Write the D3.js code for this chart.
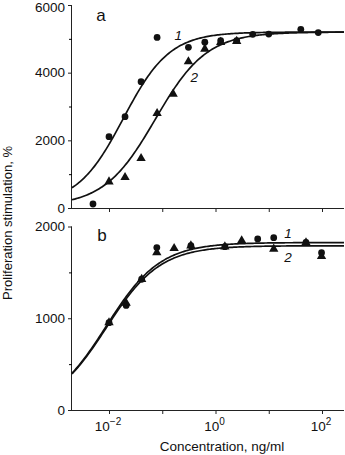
<!DOCTYPE html>
<html>
<head>
<meta charset="utf-8">
<script src="https://cdn.jsdelivr.net/npm/d3@7"></script>
<style>
  html, body { margin: 0; padding: 0; background: #fff; }
  svg { display: block; }
  text { font-family: "Liberation Sans", Arial, sans-serif; fill: #111; }
</style>
</head>
<body>
<svg id="chart" width="345" height="455"></svg>
<script>
// Concentrations (ng/ml) and proliferation stimulation (%)
// Panel a
const aConc1 = [0.005, 0.01, 0.02, 0.04, 0.08, 0.31, 0.63, 1.25, 2.5, 5, 10, 40, 85];
const aVal1  = [118, 2107, 2699, 3734, 5040, 4750, 4900, 4945, 4945, 5134, 5140, 5282, 5185];
const aConc2 = [0.01, 0.02, 0.04, 0.08, 0.16, 0.31, 0.63, 1.25, 2.5];
const aVal2  = [778, 907, 1469, 2798, 3370, 4325, 4700, 4900, 4930];
// Panel b
const bConc1 = [0.01, 0.021, 0.041, 0.079, 0.345, 1.5, 6.2, 12.4, 50, 98];
const bVal1  = [952, 1140, 1425, 1770, 1791, 1780, 1864, 1878, 1828, 1714];
const bConc2 = [0.01, 0.021, 0.041, 0.079, 0.167, 0.345, 1.5, 3.1, 12.4, 50, 98];
const bVal2  = [952, 1165, 1425, 1715, 1762, 1791, 1780, 1846, 1755, 1825, 1675];

// Four-parameter logistic fits: [bottom, top, log10 EC50, Hill slope]
const aFit1 = [100, 5200, -1.73, 1.0];
const aFit2 = [50, 5200, -1.13, 0.9];
const bFit1 = [0, 1825, -2.053, 0.857];
const bFit2 = [0, 1790, -2.053, 0.857];

// Axis ticks
const aYMajor = [0, 2000, 4000, 6000];
const aYMinor = [1000, 3000, 5000];
const bYMajor = [0, 1000, 2000];
const bYMinor = [500, 1500];
const xTicks = [1e-2, 1e-1, 1e0, 1e1, 1e2];
const xLabelExps = [-2, 0, 2];

const svg = d3.select("#chart");

const x = d3.scaleLog().domain([Math.pow(10, -2.695), Math.pow(10, 2.413)]).range([72, 344]);
const yA = d3.scaleLinear().domain([0, 6000]).range([208, 5]);
const yB = d3.scaleLinear().domain([0, 2000]).range([410, 226.5]);

function logistic(p) {
  return lx => p[0] + (p[1] - p[0]) / (1 + Math.pow(10, (p[2] - lx) * p[3]));
}

function drawPanel(y, majors, minors, showXLabels) {
  const g = svg.append("g");
  // y axis
  const yAxis = d3.axisLeft(y).tickValues(majors).tickSize(4).tickPadding(3).tickFormat(d3.format("d"));
  const ga = g.append("g").attr("transform", "translate(72,0)").call(yAxis);
  ga.select(".domain").attr("d", `M-0.5,${y.range()[1]}V${y.range()[0]}`);
  // keep the topmost label inside the frame
  ga.selectAll(".tick text").attr("dy", d => y(d) < 8 ? "0.45em" : "0.32em");
  g.append("g").attr("transform", "translate(72,0)")
    .call(d3.axisLeft(y).tickValues(minors).tickSize(3).tickFormat(""))
    .select(".domain").remove();
  // x axis
  const xAxis = d3.axisBottom(x).tickValues(xTicks).tickSize(4).tickFormat("");
  const gx = g.append("g").attr("transform", `translate(0,${y.range()[0]})`).call(xAxis);
  gx.select(".domain").attr("d", `M72,0.5H344`);
  [ga, gx].forEach(s => {
    s.selectAll("path, line").attr("stroke", "#222").attr("stroke-width", 1);
    s.selectAll("text").attr("font-size", 13.5).attr("fill", "#111")
      .attr("font-family", '"Liberation Sans", Arial, sans-serif');
  });
  if (showXLabels) {
    xLabelExps.forEach(e => {
      const t = g.append("text")
        .attr("x", x(Math.pow(10, e)) - 1)
        .attr("y", y.range()[0] + 21)
        .attr("text-anchor", "middle")
        .attr("font-size", 13.5);
      t.append("tspan").text("10");
      t.append("tspan").attr("dy", -6).attr("font-size", 10).text(e < 0 ? "\u2212" + (-e) : String(e));
    });
  }
  return g;
}

function drawCurve(y, fit) {
  const f = logistic(fit);
  const lxs = d3.range(0, 201).map(i => -2.695 + i * (2.413 + 2.695) / 200);
  const line = d3.line().x(lx => x(Math.pow(10, lx))).y(lx => y(f(lx)));
  svg.append("path").datum(lxs).attr("d", line)
    .attr("fill", "none").attr("stroke", "#111").attr("stroke-width", 1.7);
}

function drawPoints(y, conc, vals, shape) {
  const sym = d3.symbol().type(shape === "circle" ? d3.symbolCircle : d3.symbolTriangle)
    .size(shape === "circle" ? 36 : 38);
  svg.append("g").selectAll("path").data(conc.map((c, i) => [c, vals[i]])).join("path")
    .attr("d", sym)
    .attr("transform", d => `translate(${x(d[0])},${y(d[1])})`)
    .attr("fill", "#111");
}

drawPanel(yA, aYMajor, aYMinor, false);
drawPanel(yB, bYMajor, bYMinor, true);

drawCurve(yA, aFit1);
drawCurve(yA, aFit2);
drawCurve(yB, bFit1);
drawCurve(yB, bFit2);

drawPoints(yA, aConc1, aVal1, "circle");
drawPoints(yA, aConc2, aVal2, "triangle");
drawPoints(yB, bConc1, bVal1, "circle");
drawPoints(yB, bConc2, bVal2, "triangle");

// Panel letters
svg.append("text").attr("x", 101).attr("y", 21).attr("text-anchor", "middle")
  .attr("font-family", '"Liberation Serif", "Times New Roman", serif').attr("font-size", 17).text("a");
svg.append("text").attr("x", 102).attr("y", 241).attr("text-anchor", "middle")
  .attr("font-family", '"Liberation Serif", "Times New Roman", serif').attr("font-size", 17).text("b");

// Curve numbers
const curveLabels = [
  { t: "1", px: x(Math.pow(10, -0.70)), py: yA(5110) },
  { t: "2", px: x(Math.pow(10, -0.40)), py: yA(3870) },
  { t: "1", px: x(Math.pow(10, 1.36)), py: yB(1930) },
  { t: "2", px: x(Math.pow(10, 1.36)), py: yB(1668) }
];
curveLabels.forEach(d => {
  svg.append("text").attr("x", d.px).attr("y", d.py + 5).attr("text-anchor", "middle")
    .attr("font-style", "italic").attr("font-size", 13.5).text(d.t);
});

// Axis titles
svg.append("text").attr("x", 222).attr("y", 451).attr("text-anchor", "middle")
  .attr("font-size", 13.5).text("Concentration, ng/ml");
svg.append("text").attr("transform", "translate(12,223) rotate(-90)").attr("text-anchor", "middle")
  .attr("font-size", 13).text("Proliferation stimulation, %");
</script>
</body>
</html>
